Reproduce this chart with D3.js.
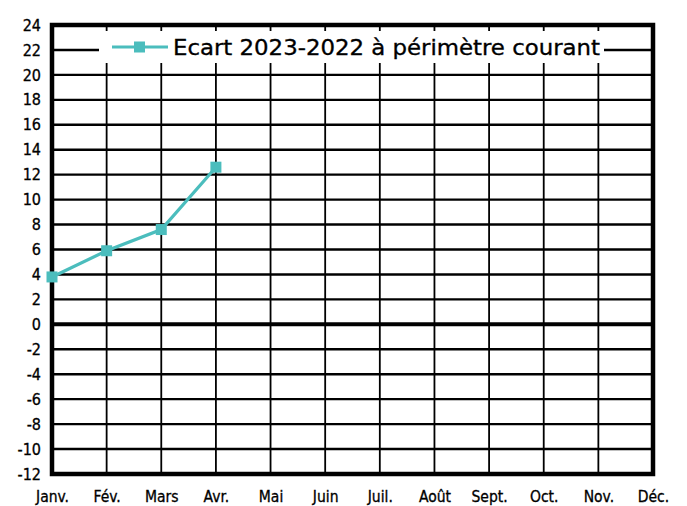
<!DOCTYPE html>
<html><head><meta charset="utf-8">
<script src="https://cdn.jsdelivr.net/npm/d3@7"></script>
<style>body{margin:0;background:#fff}svg{display:block}</style>
</head><body>
<svg id="c" width="687" height="506"></svg>
<script>
const months = ["Janv.","Fév.","Mars","Avr.","Mai","Juin","Juil.","Août","Sept.","Oct.","Nov.","Déc."];
const ecart = [3.8, 5.9, 7.6, 12.6];
const yTicks = [24,22,20,18,16,14,12,10,8,6,4,2,0,-2,-4,-6,-8,-10,-12];
const seriesName = "Ecart 2023-2022 à périmètre courant";
const color = "#4bbdbd";
const font = "'DejaVu Sans Condensed', 'DejaVu Sans', sans-serif";

const svg = d3.select("#c");
const L = 52, R = 653, T = 25, B = 474;
const x = d3.scalePoint().domain(months).range([L, R]);
const y = d3.scaleLinear().domain([-12, 24]).range([B, T]);

// horizontal grid
svg.append("g").selectAll("line").data(yTicks.filter(v => v > -12 && v < 24)).join("line")
  .attr("x1", L).attr("x2", R).attr("y1", d => y(d)).attr("y2", d => y(d))
  .attr("stroke", "#000").attr("stroke-width", d => d === 0 ? 4 : 2.4);
// vertical grid
svg.append("g").selectAll("line").data(months.slice(1, -1)).join("line")
  .attr("x1", d => x(d)).attr("x2", d => x(d)).attr("y1", T).attr("y2", B)
  .attr("stroke", "#000").attr("stroke-width", 1.8);

// legend box
svg.append("rect").attr("x", 99).attr("y", 31).attr("width", 505).attr("height", 32).attr("fill", "#fff");

// frame
svg.append("rect").attr("x", L).attr("y", T).attr("width", R - L).attr("height", B - T)
  .attr("fill", "none").attr("stroke", "#000").attr("stroke-width", 4.5);

// y axis labels
const yAxis = d3.axisLeft(y).tickValues(yTicks).tickSize(0).tickPadding(10).tickFormat(d => String(d));
const ya = svg.append("g").attr("transform", `translate(${L},0)`).call(yAxis);
ya.select(".domain").remove();
ya.selectAll("text").attr("font-family", font).attr("font-size", 16).attr("font-weight", 500)
  .attr("fill", "#000").attr("x", -11).style("paint-order", "stroke").attr("stroke", "#000").attr("stroke-width", 0.3);

// x axis labels
const xAxis = d3.axisBottom(x).tickSize(0).tickPadding(17);
const xa = svg.append("g").attr("transform", `translate(0,${B})`).call(xAxis);
xa.select(".domain").remove();
xa.selectAll("text").attr("font-family", font).attr("font-size", 15.5).attr("fill", "#000")
  .attr("stroke", "#000").attr("stroke-width", 0.3);

// series line
const line = d3.line().x((d, i) => x(months[i])).y(d => y(d));
svg.append("path").datum(ecart).attr("d", line).attr("fill", "none")
  .attr("stroke", color).attr("stroke-width", 3.2);
svg.append("g").selectAll("rect").data(ecart).join("rect")
  .attr("x", (d, i) => x(months[i]) - 5.5).attr("y", d => y(d) - 5.5)
  .attr("width", 11).attr("height", 11).attr("fill", color);

// legend
const ly = 47;
svg.append("line").attr("x1", 112).attr("x2", 168).attr("y1", ly).attr("y2", ly)
  .attr("stroke", color).attr("stroke-width", 3);
svg.append("rect").attr("x", 134).attr("y", ly - 5.5).attr("width", 11).attr("height", 11).attr("fill", color);
svg.append("text").attr("x", 173).attr("y", ly + 7.5).text(seriesName)
  .attr("font-family", font).attr("font-size", 21).attr("fill", "#000")
  .attr("stroke", "#000").attr("stroke-width", 0.3)
  .attr("textLength", 427).attr("lengthAdjust", "spacingAndGlyphs");
</script>
</body></html>
